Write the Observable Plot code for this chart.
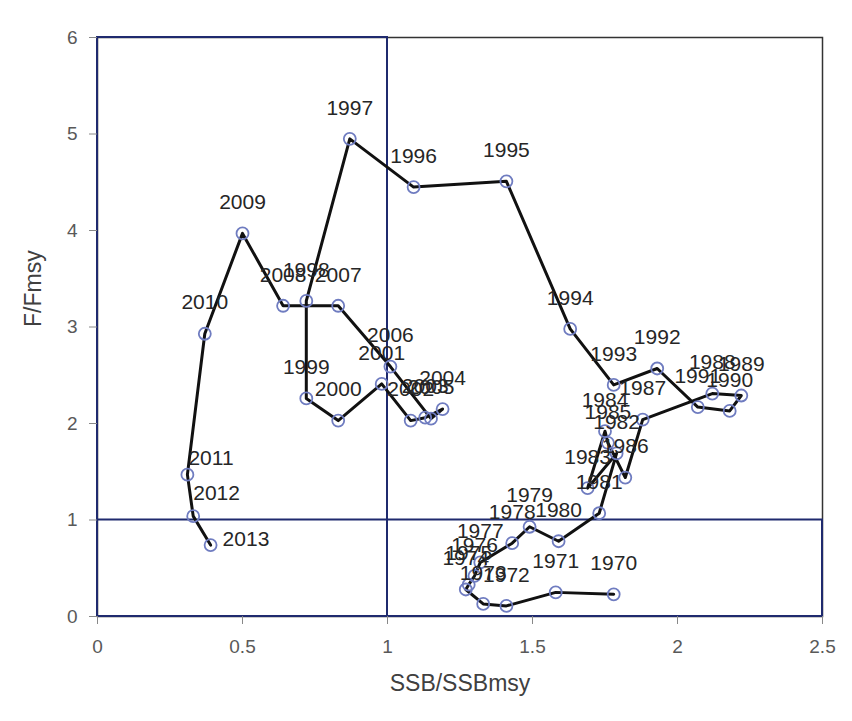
<!DOCTYPE html>
<html><head><meta charset="utf-8">
<script src="https://cdn.jsdelivr.net/npm/d3@7"></script>
<script src="https://cdn.jsdelivr.net/npm/@observablehq/plot@0.6"></script>
<style>html,body{margin:0;padding:0;background:#fff}</style>
</head><body><div id="chart"></div>
<script>
const years = [1970,1971,1972,1973,1974,1975,1976,1977,1978,1979,
  1980,1981,1982,1983,1984,1985,1986,1987,1988,1989,
  1990,1991,1992,1993,1994,1995,1996,1997,1998,1999,
  2000,2001,2002,2003,2004,2005,2006,2007,2008,2009,
  2010,2011,2012,2013];
const ssbRatio = [1.78,1.58,1.41,1.33,1.27,1.28,1.30,1.32,1.43,1.49,
  1.59,1.73,1.79,1.69,1.75,1.76,1.82,1.88,2.12,2.22,
  2.18,2.07,1.93,1.78,1.63,1.41,1.09,0.87,0.72,0.72,
  0.83,0.98,1.08,1.13,1.19,1.15,1.01,0.83,0.64,0.50,
  0.37,0.31,0.33,0.39];
const fRatio = [0.23,0.25,0.11,0.13,0.28,0.33,0.42,0.56,0.76,0.93,
  0.78,1.07,1.69,1.33,1.92,1.80,1.44,2.04,2.31,2.29,
  2.13,2.17,2.57,2.40,2.98,4.51,4.45,4.95,3.27,2.26,
  2.03,2.41,2.03,2.06,2.15,2.05,2.59,3.22,3.22,3.97,
  2.93,1.47,1.04,0.74];
const xTicks = [0, 0.5, 1, 1.5, 2, 2.5];
const yTicks = [0, 1, 2, 3, 4, 5, 6];
const refSSB = 1;
const refF = 1;
const xMax = 2.5;
const yMax = 6;
const xTitle = "SSB/SSBmsy";
const yTitle = "F/Fmsy";

const data = years.map((y, i) => ({year: y, ssb: ssbRatio[i], f: fRatio[i]}));
// label nudges for the last few years (label placed to the right)
const nudges = {2011: [1, -16], 2012: [0, -23], 2013: [12, -6]};
const boxes = [
  {x1: 0, x2: refSSB, y1: 0, y2: yMax},
  {x1: 0, x2: xMax, y1: 0, y2: refF}
];

const navy = "#1f2a6e";
const marks = [
  Plot.frame({stroke: "#333", strokeWidth: 1.5}),
  Plot.rect(boxes, {x1: "x1", x2: "x2", y1: "y1", y2: "y2", fill: "none", stroke: navy, strokeWidth: 2}),
  Plot.line(data, {x: "ssb", y: "f", stroke: "#111", strokeWidth: 3}),
  Plot.dot(data, {x: "ssb", y: "f", r: 6, fill: "none", stroke: "#6f7cc0", strokeWidth: 1.8}),
  Plot.text(data.filter(d => !(d.year in nudges)), {x: "ssb", y: "f", text: d => String(d.year), dy: -31, fontSize: 21, fill: "#262626"}),
  ...Object.keys(nudges).map(k => Plot.text(data.filter(d => d.year === +k), {
    x: "ssb", y: "f", text: d => String(d.year), textAnchor: "start",
    dx: nudges[k][0], dy: nudges[k][1], fontSize: 21, fill: "#262626"})),
  Plot.axisX(xTicks, {tickSize: 8, tickPadding: 15, fontSize: 19, stroke: "#888", fill: "#595959", tickFormat: d => String(d), label: null}),
  Plot.axisY(yTicks, {tickSize: 8, tickPadding: 12, fontSize: 19, stroke: "#888", fill: "#595959", tickFormat: d => String(d), label: null}),
  Plot.text([xTitle], {frameAnchor: "bottom", dy: 74, text: d => d, fontSize: 23, fill: "#404040"}),
  Plot.text([yTitle], {frameAnchor: "left", dx: -64, rotate: -90, text: d => d, fontSize: 23, fill: "#404040"})
];

const chart = Plot.plot({
  width: 852,
  height: 721,
  marginLeft: 97,
  marginRight: 30,
  marginTop: 37,
  marginBottom: 105,
  style: {fontFamily: "'Liberation Sans', Arial, sans-serif", background: "#fff"},
  x: {domain: [0, xMax]},
  y: {domain: [0, yMax]},
  marks
});
document.getElementById("chart").appendChild(chart);
</script>
</body></html>
